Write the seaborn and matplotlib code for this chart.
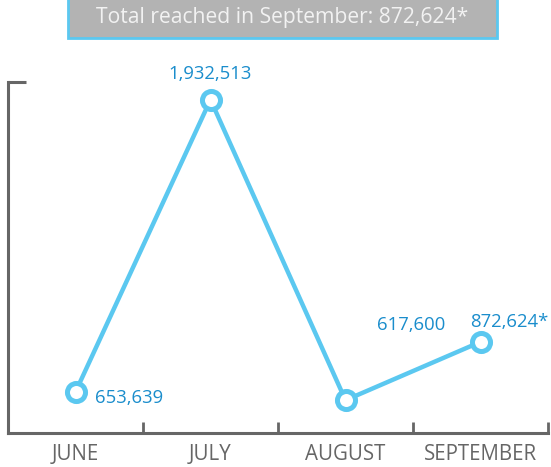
import seaborn as sns
import matplotlib.pyplot as plt
import matplotlib.patches as mpatches
import pandas as pd

# data
months = ["JUNE", "JULY", "AUGUST", "SEPTEMBER"]
reached = [653639, 1932513, 617600, 872624]
labels = ["653,639", "1,932,513", "617,600", "872,624*"]
title = "Total reached in September: 872,624*"

df = pd.DataFrame({"Month": months, "Reached": reached})

sns.set_style("white")
plt.rcParams["font.family"] = ["Open Sans", "DejaVu Sans"]

line_c = "#5bc8f0"
label_c = "#1a8dcc"
axis_c = "#666666"

fig = plt.figure(figsize=(5.51, 4.67), dpi=100)
W, H = 551, 467
ax = fig.add_axes([8 / W, (H - 433) / H, 540 / W, 351 / H])

sns.lineplot(data=df, x="Month", y="Reached", sort=False, ax=ax,
             color=line_c, linewidth=3.2, marker="o", markersize=13,
             markerfacecolor="white", markeredgecolor=line_c,
             markeredgewidth=3.6)

ax.set_xlim(-0.5, 3.5)
ax.set_ylim(474000, 2010000)
ax.set_xlabel("")
ax.set_ylabel("")

# value labels
offsets = [(20, -6, "left", "center"), (0, 17, "center", "bottom"),
           (32, 75, "left", "center"), (-10, 11, "left", "bottom")]
for i, (v, lab) in enumerate(zip(reached, labels)):
    dx, dy, ha, va = offsets[i]
    ax.annotate(lab, (i, v), xytext=(dx, dy), textcoords="offset pixels",
                ha=ha, va=va, color=label_c, fontsize=13.3)

# spines and ticks
for s in ["top", "right"]:
    ax.spines[s].set_visible(False)
for s in ["left", "bottom"]:
    ax.spines[s].set_color(axis_c)
    ax.spines[s].set_linewidth(2.2)

ax.set_xticks(range(len(months)))
ax.set_xticklabels(months)
ax.set_xticks([0.5, 1.5, 2.5, 3.5], minor=True)
ax.tick_params(axis="x", which="major", bottom=True, length=0, pad=8,
               labelsize=14.8, labelcolor=axis_c)
ax.tick_params(axis="x", which="minor", bottom=True, direction="in",
               length=8, width=2, color=axis_c)
ax.set_yticks([2010000])
ax.set_yticklabels([""])
ax.tick_params(axis="y", left=True, direction="in", length=13, width=2.2,
               color=axis_c)

# title box
fig.patches.append(mpatches.Rectangle((68 / W, (H - 38) / H), 429 / W, 40 / H,
                                      transform=fig.transFigure,
                                      facecolor="#b3b3b3", edgecolor=line_c,
                                      linewidth=2))
fig.text(282 / W, (H - 17) / H, title, ha="center", va="center",
         color="#f2f2f2", fontsize=15.2)

plt.savefig("out.png", dpi=100)
plt.close()
